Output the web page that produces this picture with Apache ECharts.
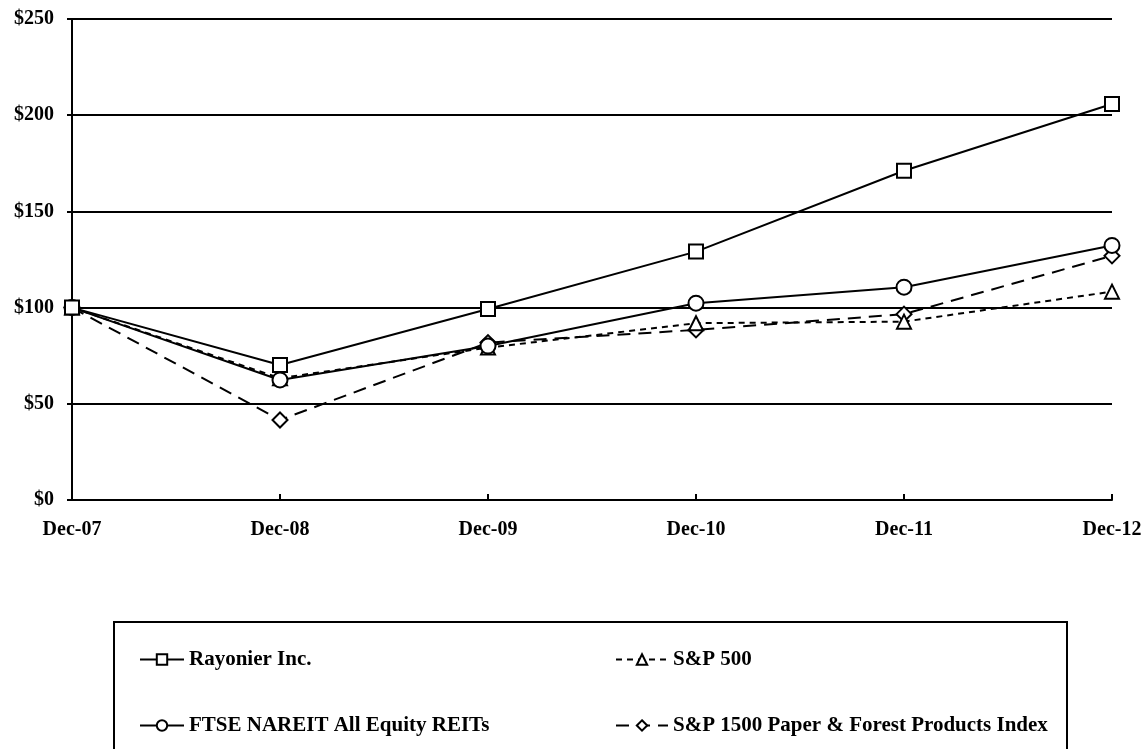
<!DOCTYPE html>
<html>
<head>
<meta charset="utf-8">
<script src="https://cdn.jsdelivr.net/npm/echarts@6/dist/echarts.min.js"></script>
<style>html,body{margin:0;padding:0;background:#fff;}#c{width:1146px;height:749px;}</style>
</head>
<body>
<div id="c"></div>
<script>
const categories = ['Dec-07','Dec-08','Dec-09','Dec-10','Dec-11','Dec-12'];
const rayonier = [100, 70.2, 99.3, 129.1, 171.1, 205.8];
const ftseNareit = [100, 62.4, 80.0, 102.3, 110.6, 132.3];
const sp500 = [100, 63.3, 79.2, 91.9, 92.7, 108.3];
const sp1500Paper = [100, 41.6, 81.8, 88.4, 96.6, 126.9];
const yTicks = [0, 50, 100, 150, 200, 250];

const FONT = 'Liberation Serif';
const FS = 20;
const chart = echarts.init(document.getElementById('c'));

function mk(name, data, symbol, size, lineType, z) {
  return {
    name: name, type: 'line', data: data, symbol: symbol, symbolSize: size,
    z: z,
    lineStyle: {color: '#000', width: 2, type: lineType},
    itemStyle: {color: '#fff', borderColor: '#000', borderWidth: 2},
    emphasis: {disabled: true},
    animation: false
  };
}

const legendText = {fontFamily: FONT, fontWeight: 'bold', fontSize: 21, color: '#000'};
function lg(name, left, centerY, w) {
  return {orient: 'horizontal', left: left, top: centerY - 11, itemWidth: w, itemHeight: 13,
    itemGap: 0, padding: 0, textStyle: legendText, data: [name], selectedMode: false};
}

chart.setOption({
  animation: false,
  backgroundColor: '#fff',
  grid: {left: 72, right: 34, top: 19, bottom: 249, containLabel: false},
  xAxis: {
    type: 'category', data: categories, boundaryGap: false,
    axisLine: {lineStyle: {color: '#000', width: 2}},
    axisTick: {inside: true, length: 6, lineStyle: {color: '#000', width: 2}},
    axisLabel: {fontFamily: FONT, fontWeight: 'bold', fontSize: FS, color: '#000', margin: 20,
      showMinLabel: true, showMaxLabel: true, interval: 0},
    splitLine: {show: false}
  },
  yAxis: {
    type: 'value', min: yTicks[0], max: yTicks[yTicks.length-1], interval: 50,
    axisLine: {show: true, lineStyle: {color: '#000', width: 2}},
    axisTick: {show: true, length: 5, lineStyle: {color: '#000', width: 2}},
    axisLabel: {fontFamily: FONT, fontWeight: 'bold', fontSize: FS, color: '#000', margin: 18,
      formatter: v => '$' + v},
    splitLine: {show: true, lineStyle: {color: '#000', width: 2}}
  },
  legend: [
    lg('Rayonier Inc.', 139, 660, 44),
    lg('FTSE NAREIT All Equity REITs', 139, 726, 44),
    lg('S&P 500', 615, 660, 52),
    lg('S&P 1500 Paper & Forest Products Index', 615, 726, 52)
  ],
  graphic: [
    {type: 'rect', shape: {x: 114, y: 622, width: 953, height: 140},
      style: {fill: 'none', stroke: '#000', lineWidth: 2}, z: 0}
  ],
  series: [
    mk('S&P 1500 Paper & Forest Products Index', sp1500Paper, 'diamond', 15, [13, 8], 2),
    mk('S&P 500', sp500, 'triangle', 14, [6, 5], 3),
    mk('FTSE NAREIT All Equity REITs', ftseNareit, 'circle', 15, 'solid', 4),
    mk('Rayonier Inc.', rayonier, 'rect', 14, 'solid', 5)
  ]
});
</script>
</body>
</html>
